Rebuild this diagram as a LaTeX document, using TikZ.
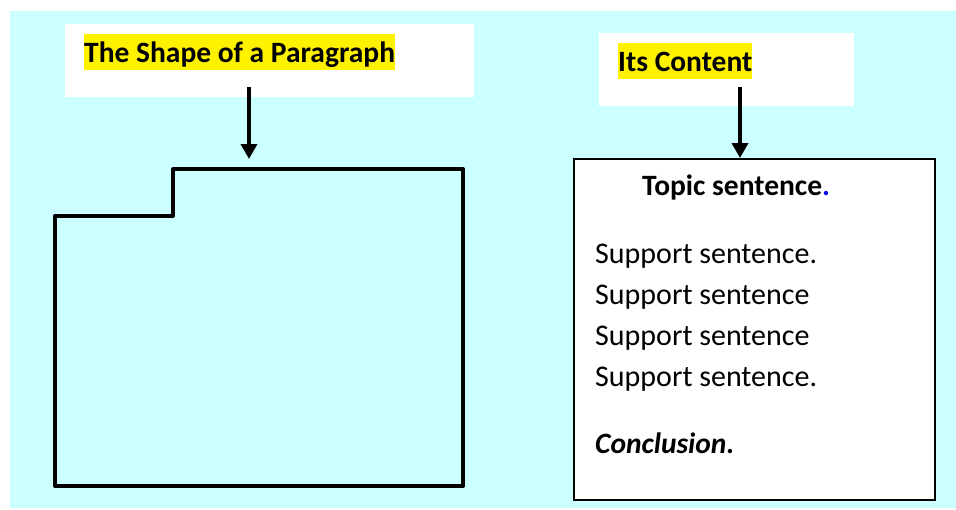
\documentclass[tikz,border=0pt]{standalone}
\usepackage{fontspec}
\setmainfont{Carlito}
\usetikzlibrary{arrows.meta}
\definecolor{bgcyan}{RGB}{204,255,255}
\definecolor{dotblue}{RGB}{0,0,255}
\tikzset{
  titlebox/.style={fill=white, draw=none},
  hilite/.style={fill=yellow, inner xsep=0pt, inner ysep=0pt, text height=28.7pt, text depth=7.3pt, anchor=base west, font=\fontsize{29.5}{36}\selectfont\bfseries},
  bodytext/.style={anchor=base west, inner sep=0pt, font=\fontsize{30}{36}\selectfont},
  downarrow/.style={line width=3.5pt, -{Triangle[width=16pt,length=15pt]}},
  shapeline/.style={line width=4pt, line cap=round, line join=round},
  contentbox/.style={draw=black, line width=2pt, fill=white}
}
\begin{document}
\begin{tikzpicture}[x=1pt,y=-1pt]
\useasboundingbox (0,0) rectangle (956,509);
\fill[bgcyan] (10,11) rectangle (956,508);
% title boxes
\fill[titlebox] (65,24) rectangle (474,97);
\fill[titlebox] (599,33) rectangle (854,106);
\node[hilite] (t1) at (84,62.7) {The Shape of a Paragraph};
\node[hilite] (t2) at (618,71.7) {Its Content};
% arrow anchors
\coordinate (a1s) at (249,87);
\coordinate (a1e) at (249,159);
\coordinate (a2s) at (740,87);
\coordinate (a2e) at (740,158);
% paragraph shape
\coordinate (p1) at (55,486);
\coordinate (p2) at (55,216);
\coordinate (p3) at (173,216);
\coordinate (p4) at (173,169);
\coordinate (p5) at (463,169);
\coordinate (p6) at (463,486);
\draw[shapeline] (p1) -- (p2) -- (p3) -- (p4) -- (p5) -- (p6) -- cycle;
% content box
\node[contentbox, anchor=north west, minimum width=361pt, minimum height=341pt, inner sep=0pt] (cb) at (573,158) {};
\draw[downarrow] (a1s) -- (a1e);
\draw[downarrow] (a2s) -- (a2e);
\node[bodytext, font=\fontsize{29.5}{36}\selectfont\bfseries] (ts) at (642,195) {Topic sentence\textcolor{dotblue}{.}};
\node[bodytext] (s1) at (595,263) {Support sentence.};
\node[bodytext] (s2) at (595,304) {Support sentence};
\node[bodytext] (s3) at (595,345) {Support sentence};
\node[bodytext] (s4) at (595,386) {Support sentence.};
\node[bodytext, font=\fontsize{29.5}{36}\selectfont\bfseries\itshape] (cl) at (595,453) {Conclusion.};
\end{tikzpicture}
\end{document}
